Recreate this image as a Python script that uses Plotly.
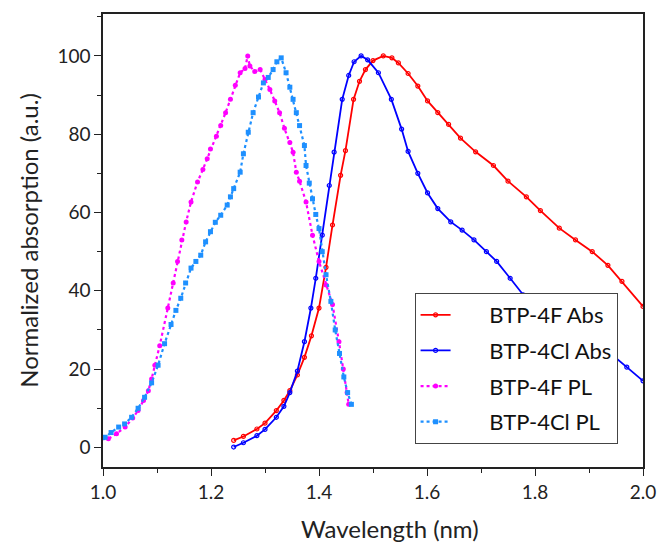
import plotly.graph_objects as go

# BTP-4F Abs
f_abs_x = [1.242, 1.26, 1.285, 1.30, 1.321, 1.335, 1.346, 1.36, 1.373, 1.386, 1.40, 1.413, 1.425, 1.44,
           1.449, 1.464, 1.475, 1.486, 1.50, 1.519, 1.535, 1.547, 1.565, 1.583, 1.601, 1.62, 1.64, 1.662,
           1.69, 1.723, 1.75, 1.784, 1.81, 1.845, 1.875, 1.906, 1.935, 1.961, 2.0]
f_abs_y = [1.8, 2.8, 4.7, 6.2, 9.4, 12.0, 14.5, 18.5, 23.0, 28.5, 35.6, 46.0, 56.8, 69.5,
           75.8, 88.9, 93.5, 96.5, 98.8, 100.0, 99.5, 98.2, 95.5, 92.3, 88.5, 85.5, 82.5, 79.0,
           75.5, 72.0, 68.0, 64.0, 60.5, 56.0, 53.0, 50.0, 46.5, 42.4, 36.0]

# BTP-4Cl Abs
cl_abs_x = [1.242, 1.26, 1.285, 1.30, 1.321, 1.335, 1.346, 1.36, 1.373, 1.385, 1.394, 1.406, 1.419, 1.428,
            1.443, 1.455, 1.465, 1.478, 1.49, 1.51, 1.534, 1.553, 1.565, 1.583, 1.601, 1.62, 1.644, 1.665,
            1.687, 1.71, 1.729, 1.754, 1.778, 1.80, 1.83, 1.86, 1.89, 1.92, 1.945, 1.97, 2.0]
cl_abs_y = [0.1, 1.2, 3.0, 4.6, 7.7, 10.5, 14.0, 19.5, 27.0, 35.6, 43.2, 54.2, 66.9, 75.4,
            88.9, 95.0, 98.5, 100.0, 99.0, 95.7, 88.9, 81.3, 75.6, 70.0, 65.0, 61.0, 57.6, 55.5,
            53.0, 50.0, 47.5, 43.2, 39.0, 35.5, 32.0, 29.0, 27.0, 25.0, 23.4, 20.5, 17.0]

# BTP-4F PL
f_pl_x = [1.00, 1.01, 1.025, 1.041, 1.055, 1.065, 1.075, 1.084, 1.09, 1.096, 1.105, 1.12, 1.13, 1.138,
          1.146, 1.154, 1.163, 1.175, 1.185, 1.193, 1.199, 1.21, 1.218, 1.227, 1.236, 1.245, 1.254, 1.263,
          1.268, 1.272, 1.281, 1.291, 1.30, 1.309, 1.318, 1.327, 1.336, 1.346, 1.352, 1.358, 1.364, 1.376,
          1.388, 1.40, 1.413, 1.425, 1.437, 1.445, 1.452, 1.455]
f_pl_y = [2.5, 2.2, 3.5, 5.2, 7.5, 9.4, 12.0, 14.5, 17.5, 21.0, 26.0, 35.6, 42.0, 47.5,
          53.0, 57.6, 62.7, 67.8, 71.0, 73.7, 76.2, 79.5, 82.2, 85.5, 88.9, 92.5, 95.7, 96.8,
          100.0, 97.4, 96.0, 96.5, 94.0, 91.4, 88.5, 85.5, 81.5, 77.9, 75.4, 70.3, 68.0, 62.7,
          54.2, 47.5, 41.5, 36.5, 27.0, 20.0, 14.0, 11.0]

# BTP-4Cl PL
cl_pl_x = [1.00, 1.004, 1.015, 1.029, 1.04, 1.053, 1.065, 1.077, 1.09, 1.102, 1.114, 1.126, 1.135, 1.144,
           1.153, 1.163, 1.172, 1.181, 1.19, 1.199, 1.208, 1.218, 1.23, 1.236, 1.242, 1.254, 1.26, 1.269,
           1.278, 1.288, 1.297, 1.306, 1.315, 1.322, 1.33, 1.339, 1.346, 1.352, 1.358, 1.364, 1.373, 1.376,
           1.382, 1.388, 1.394, 1.40, 1.406, 1.413, 1.422, 1.43, 1.438, 1.446, 1.453, 1.46]
cl_pl_y = [2.5, 2.6, 3.8, 5.2, 6.0, 7.7, 10.0, 12.8, 16.5, 21.0, 26.5, 31.4, 35.0, 38.1,
           42.0, 45.8, 47.5, 49.1, 52.5, 55.1, 57.5, 59.3, 61.9, 64.0, 66.1, 70.3, 75.0, 80.5,
           85.5, 89.5, 93.1, 94.5, 96.5, 98.5, 99.5, 95.7, 92.0, 88.9, 85.5, 82.2, 77.1, 72.0,
           67.5, 63.5, 59.5, 55.9, 50.0, 44.1, 37.3, 30.0, 24.0, 18.0, 14.0, 11.0]

x_ticks = [1.0, 1.2, 1.4, 1.6, 1.8, 2.0]
y_ticks = [0, 20, 40, 60, 80, 100]
series_names = ["BTP-4F Abs", "BTP-4Cl Abs", "BTP-4F PL", "BTP-4Cl PL"]

FONT = "Lato"
PAD = "\u00a0" * 6  # widen gap between legend sample and text

fig = go.Figure()
fig.add_trace(go.Scatter(x=f_abs_x, y=f_abs_y, name=PAD + series_names[0], mode="lines+markers", legendgroup="a",
                         line=dict(color="#FF0000", width=1.8),
                         marker=dict(symbol="circle-open", size=4, color="#FF0000", line=dict(width=1.2))))
fig.add_trace(go.Scatter(x=cl_abs_x, y=cl_abs_y, name=PAD + series_names[1], mode="lines+markers", legendgroup="b",
                         line=dict(color="#0000FF", width=1.8),
                         marker=dict(symbol="circle-open", size=4, color="#0000FF", line=dict(width=1.2))))
fig.add_trace(go.Scatter(x=f_pl_x, y=f_pl_y, name=PAD + series_names[2], mode="lines+markers", legendgroup="c",
                         line=dict(color="#FF00FF", width=2.2, dash="dot"),
                         marker=dict(symbol="circle", size=5, color="#FF00FF")))
fig.add_trace(go.Scatter(x=cl_pl_x, y=cl_pl_y, name=PAD + series_names[3], mode="lines+markers", legendgroup="d",
                         line=dict(color="#1E90FF", width=2.2, dash="dot"),
                         marker=dict(symbol="square", size=5, color="#1E90FF")))

axis_common = dict(showline=True, linecolor="#222222", linewidth=1.5, mirror=True,
                   ticks="outside", ticklen=7, tickwidth=1.3, tickcolor="#222222",
                   showgrid=False, zeroline=False,
                   tickfont=dict(family=FONT, size=19, color="#222222"))

fig.update_xaxes(range=[1.0, 2.0], tickvals=x_ticks, ticktext=[f"{v:.1f}" for v in x_ticks],
                 minor=dict(dtick=0.1, ticks="outside", ticklen=4, tickcolor="#222222", tickwidth=1.3),
                 **axis_common)
fig.update_yaxes(range=[-5, 110.7], tickvals=y_ticks, ticktext=[str(v) for v in y_ticks],
                 minor=dict(dtick=10, ticks="outside", ticklen=4, tickcolor="#222222", tickwidth=1.3),
                 title=dict(text="Normalized absorption (a.u.)", font=dict(family=FONT, size=24, color="#222222"), standoff=12),
                 **axis_common)

fig.add_annotation(text="Wavelength (nm)", xref="paper", yref="paper", x=0.531, y=-0.135,
                   xanchor="center", yanchor="middle", showarrow=False,
                   font=dict(family=FONT, size=24, color="#222222"))

fig.update_layout(
    width=668, height=542,
    margin=dict(l=103, r=19, t=14, b=75),
    plot_bgcolor="white", paper_bgcolor="white",
    font=dict(family=FONT, size=19, color="#222222"),
    legend=dict(x=0.577, y=0.384, xanchor="left", yanchor="top",
                bgcolor="white", bordercolor="#444444", borderwidth=1,
                font=dict(family=FONT, size=22, color="#111111"),
                traceorder="grouped", tracegroupgap=4),
    showlegend=True,
)

fig.write_html("out.html")
